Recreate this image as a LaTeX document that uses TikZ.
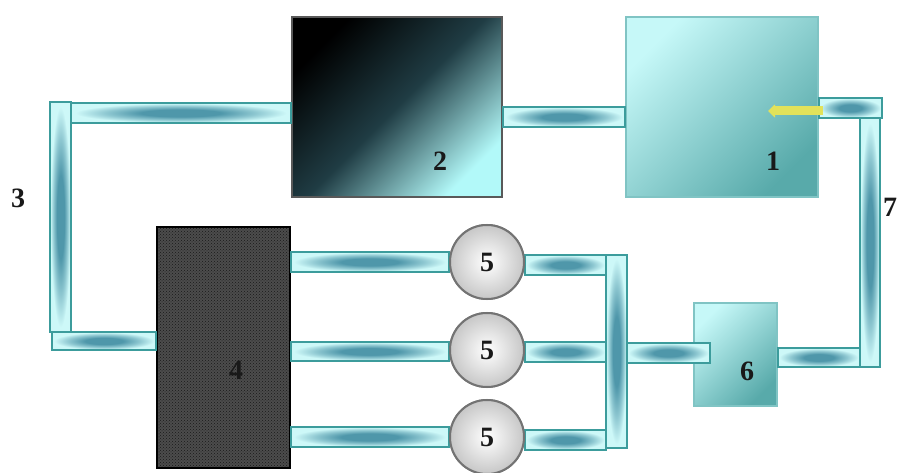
\documentclass[tikz,border=0pt]{standalone}
\usepackage{fontspec}
\setmainfont{Liberation Serif}
\usetikzlibrary{patterns,arrows.meta}
\definecolor{pipelight}{HTML}{CDF8F8}
\definecolor{pipedark}{HTML}{4F97AA}
\definecolor{pipeedge}{HTML}{3C9C9C}
\definecolor{tanklight}{HTML}{C6F8F8}
\definecolor{tankdark}{HTML}{58AAAA}
\definecolor{tankedge}{HTML}{80C4C4}
\definecolor{arrowyel}{HTML}{E2E25A}
\pgfdeclareradialshading{pipeshade}{\pgfpoint{0bp}{0bp}}{color(0bp)=(pipedark); color(9bp)=(pipedark); color(17bp)=(pipedark!50!pipelight); color(24bp)=(pipelight); color(50bp)=(pipelight)}
\tikzset{
  pipe/.style={draw=pipeedge, line width=1.6pt, shading=pipeshade},
  tank/.style={rectangle, draw=tankedge, line width=1.5pt, inner sep=0pt,
    top color=tanklight, bottom color=tankdark, shading angle=45},
  darktank/.style={rectangle, draw=black!65, line width=2pt, inner sep=0pt,
    top color=black, bottom color=tanklight!90!cyan, middle color=black!60!pipedark, shading angle=45},
  filterbox/.style={rectangle, draw=black, line width=1.5pt, inner sep=0pt,
    preaction={fill=black!70}, pattern=crosshatch dots, pattern color=black!90},
  pump/.style={circle, draw=black!55, line width=2pt, inner sep=0pt, minimum size=74pt,
    inner color=white, outer color=black!22},
  lab/.style={font=\bfseries\fontsize{28}{28}\selectfont, text=black!90, inner sep=0pt}
}
\begin{document}
\begin{tikzpicture}[x=1pt,y=-1pt]
\useasboundingbox (0,0) rectangle (898,473);
% boxes
\node[tank, minimum width=192pt, minimum height=180pt] (b1) at (722,107) {};
\node[darktank, minimum width=210pt, minimum height=180pt] (b2) at (397,107) {};
\node[filterbox, minimum width=133pt, minimum height=241pt] (b4) at (223.5,347.5) {};
\node[tank, minimum width=83pt, minimum height=103pt] (b6) at (735.5,354.5) {};
\node[pump] (p1) at (487,262) {};
\node[pump] (p2) at (487,350) {};
\node[pump] (p3) at (487,437) {};
% coordinates of pipe corners
\coordinate (lv1) at (50,102);
\coordinate (lv2) at (71,332);
\coordinate (mv1) at (606,255);
\coordinate (mv2) at (627,448);
\coordinate (rv1) at (860,118);
\coordinate (rv2) at (880,367);
% pipes
\path[pipe] (lv1) rectangle (lv2);
\path[pipe] (lv2 |- 0,103) rectangle (b2.west |- 0,123);
\path[pipe] (52,332) rectangle (b4.west |- 0,350);
\path[pipe] (b2.east |- 0,107) rectangle (b1.west |- 0,127);
\path[pipe] (rv1) rectangle (rv2);
\path[pipe] (b1.east |- 0,98) rectangle (882,118);
\path[pipe] (b6.east |- 0,348) rectangle (rv1 |- 0,367);
\path[pipe] (b4.east |- 0,252) rectangle (p1.west |- 0,272);
\path[pipe] (b4.east |- 0,342) rectangle (p2.west |- 0,361);
\path[pipe] (b4.east |- 0,427) rectangle (p3.west |- 0,447);
\path[pipe] (p1.east |- 0,255) rectangle (mv1 |- 0,275);
\path[pipe] (p2.east |- 0,342) rectangle (mv1 |- 0,362);
\path[pipe] (p3.east |- 0,430) rectangle (mv1 |- 0,450);
\path[pipe] (mv1) rectangle (mv2);
\path[pipe] (mv2 |- 0,343) rectangle (710,363);
% redraw pumps on top of pipe ends
\node[pump] at (p1) {};
\node[pump] at (p2) {};
\node[pump] at (p3) {};
% arrow
\coordinate (at) at (823,111);
\coordinate (ah) at (768,111);
\draw[arrowyel, line width=9pt, -{Triangle[length=7pt,width=13pt]}] (at) -- (ah);
% labels
\node[lab] at (773,161) {1};
\node[lab] at (440,161) {2};
\node[lab] at (18,198) {3};
\node[lab] at (236,370) {4};
\node[lab] at (p1) {5};
\node[lab] at (p2) {5};
\node[lab] at (p3) {5};
\node[lab] at (747,371) {6};
\node[lab] at (890,207) {7};
\end{tikzpicture}
\end{document}
